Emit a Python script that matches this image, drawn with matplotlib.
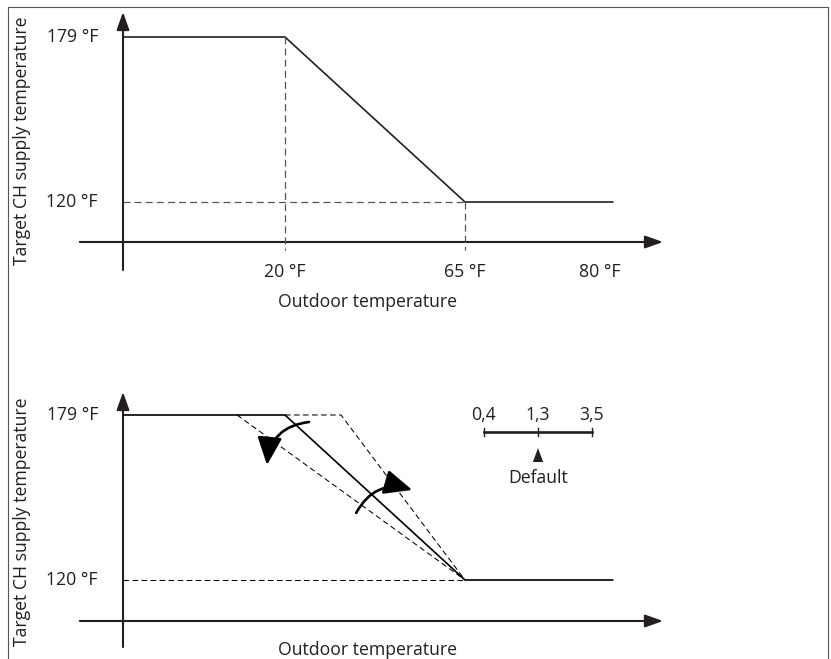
import numpy as np
import matplotlib
matplotlib.use("Agg")
import matplotlib.pyplot as plt
from matplotlib.patches import FancyArrowPatch, Polygon
from matplotlib.lines import Line2D

# heating curve data (outdoor temperature -> target CH supply temperature), in °F
supply_max = 179
supply_min = 120
t_cold = 20          # below this the supply stays at max
t_warm = 65          # above this the supply stays at min
t_end = 81.5         # where the drawn flat part stops
x_ticks = [20, 65, 80]
x_tick_labels = ["20 °F", "65 °F", "80 °F"]
y_ticks = [179, 120]
y_tick_labels = ["179 °F", "120 °F"]

# gradient variants in the lower diagram: start of the slope (°F)
slope_flat = 8
slope_steep = 34
gradient_labels = ["0,4", "1,3", "3,5"]
default_idx = 1

x_title = "Outdoor temperature"
y_title = "Target CH supply temperature"

ink = "#231f20"
plt.rcParams["font.family"] = ["Open Sans", "DejaVu Sans"]
plt.rcParams["font.size"] = 12.7
plt.rcParams["lines.scale_dashes"] = False


# the diagram is schematic: 4 px per °F left of 65 °F, 9 px per °F right of it
def fwd(t):
    return np.interp(t, [-100, 65, 200], [-660, 0, 1215])


def inv(u):
    return np.interp(u, [-660, 0, 1215], [-100, 65, 200])


fig = plt.figure(figsize=(8.31, 6.59), dpi=100)
W, H = 831, 659

# outer frame (bottom edge is cut off in the original)
fig.add_artist(Line2D([8 / W, 8 / W, 828 / W, 828 / W], [0, 1 - 7 / H, 1 - 7 / H, 0],
                      transform=fig.transFigure, color="#555555", lw=0.8))


def make_axes(top_px, bottom_px, ylo, yhi):
    ax = fig.add_axes([123 / W, 1 - bottom_px / H, 540 / W, (bottom_px - top_px) / H])
    ax.set_xscale("function", functions=(fwd, inv))
    ax.set_xlim(-20.5, 87.0)
    ax.set_ylim(ylo, yhi)
    ax.axis("off")
    return ax


def draw_axes_arrows(ax, y_below):
    kw = dict(arrowstyle="-|>,head_length=0.9,head_width=0.32", mutation_scale=12,
              color=ink, lw=1.5, shrinkA=0, shrinkB=0, clip_on=False)
    ax.add_patch(FancyArrowPatch((-0.08, 0), (1.0, 0), transform=ax.transAxes, **kw))
    ax.add_patch(FancyArrowPatch((0, y_below), (0, 1.0), transform=ax.transAxes, **kw))


def label_y(ax, ypos):
    for v, s in zip(y_ticks, y_tick_labels):
        ax.annotate(s, xy=(0, v), xycoords=ax.get_yaxis_transform(), xytext=(-18, 0),
                    textcoords="offset points", ha="right", va="center", color=ink)
    ax.annotate(y_title, xy=(0, ypos), xycoords="axes fraction", xytext=(-73, 0),
                textcoords="offset points", rotation=90, ha="center", va="center", color=ink)


# ---------------- top diagram ----------------
ax1 = make_axes(12, 242, 105.70, 187.94)
x0 = ax1.get_xlim()[0]
ax1.plot([x0, t_cold, t_warm, t_end], [supply_max, supply_max, supply_min, supply_min],
         color=ink, lw=1.2, solid_capstyle="butt")
dash = dict(color="#555555", lw=0.9, ls=(0, (5, 3)), clip_on=False)
ax1.plot([t_cold, t_cold], [supply_max, 102.85], **dash)
ax1.plot([t_warm, t_warm], [supply_min, 102.85], **dash)
ax1.plot([x0, t_warm], [supply_min, supply_min], **dash)
draw_axes_arrows(ax1, -0.122)
for v, s in zip(x_ticks, x_tick_labels):
    ax1.annotate(s, xy=(v, 0), xycoords=ax1.get_xaxis_transform(), xytext=(0, -21.6),
                 textcoords="offset points", ha="center", va="center", color=ink)
ax1.annotate(x_title, xy=(0.452, 0), xycoords="axes fraction", xytext=(0, -43.5),
             textcoords="offset points", ha="center", va="center", color=ink)
label_y(ax1, 0.439)

# ---------------- bottom diagram ----------------
ax2 = make_axes(392, 621, 105.34, 187.22)
x0 = ax2.get_xlim()[0]
thin = dict(color="black", lw=0.75, ls=(0, (4, 2.5)))
ax2.plot([x0, t_warm], [supply_min, supply_min], **thin)
ax2.plot([t_cold, slope_steep, t_warm], [supply_max, supply_max, supply_min], **thin)
ax2.plot([slope_flat, t_warm], [supply_max, supply_min], **thin)
ax2.plot([x0, t_cold, t_warm, t_end], [supply_max, supply_max, supply_min, supply_min],
         color="black", lw=1.2, solid_capstyle="butt")
draw_axes_arrows(ax2, -0.114)
ax2.annotate(x_title, xy=(0.452, 0), xycoords="axes fraction", xytext=(0, -21),
             textcoords="offset points", ha="center", va="center", color=ink)
label_y(ax2, 0.432)

# curved arrows showing the gradient change
curl = dict(arrowstyle="-|>,head_length=0.95,head_width=0.42", mutation_scale=18,
            color="black", lw=1.9, shrinkA=0, shrinkB=0)
ax2.add_patch(FancyArrowPatch((26.0, 176.5), (15.5, 161.1),
                              connectionstyle="arc3,rad=0.4", **curl))
ax2.add_patch(FancyArrowPatch((37.8, 144.0), (51.8, 152.2),
                              connectionstyle="arc3,rad=-0.4", **curl))

# gradient scale bar
bx = [0.6685, 0.7685, 0.8685]
by = 0.8253
ax2.plot([bx[0], bx[-1]], [by, by], transform=ax2.transAxes, color=ink, lw=1.9)
for xb, s in zip(bx, gradient_labels):
    ax2.plot([xb, xb], [by - 0.016, by + 0.016], transform=ax2.transAxes, color=ink, lw=1.0)
    ax2.text(xb, 0.8996, s, transform=ax2.transAxes, ha="center", va="center", color=ink)
xd = bx[default_idx]
ax2.add_patch(Polygon([[xd, 0.7555], [xd - 0.0095, 0.6943], [xd + 0.0095, 0.6943]],
                      closed=True, transform=ax2.transAxes, color=ink, lw=0))
ax2.text(xd, 0.6245, "Default", transform=ax2.transAxes, ha="center", va="center", color=ink)

fig.savefig("out.png", dpi=100)
